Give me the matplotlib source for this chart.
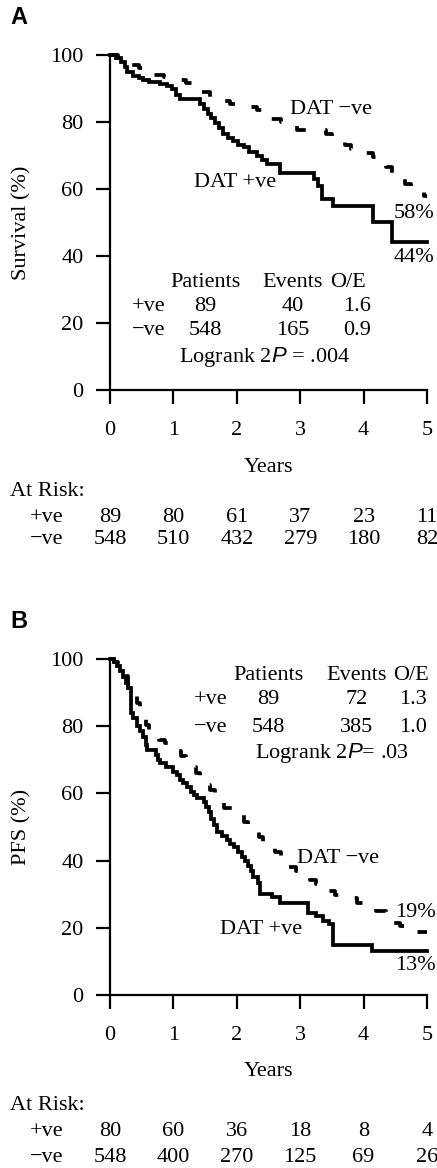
import matplotlib
matplotlib.use("Agg")
import matplotlib.pyplot as plt
import matplotlib.transforms as mtransforms

plt.rcParams['font.family'] = ['Liberation Serif', 'DejaVu Serif']
plt.rcParams['mathtext.fontset'] = 'custom'
plt.rcParams['mathtext.it'] = 'Liberation Sans:italic'
plt.rcParams['mathtext.rm'] = 'Liberation Serif'

# ---- Panel A: overall survival ----
os_pos_t = [0, 0.10, 0.18, 0.24, 0.27, 0.37, 0.45, 0.52, 0.62, 0.79, 0.90, 0.98, 1.04, 1.10,
            1.42, 1.48, 1.55, 1.60, 1.66, 1.72, 1.78, 1.86, 1.94, 2.02, 2.12, 2.20, 2.32,
            2.40, 2.47, 2.68, 3.22, 3.28, 3.34, 3.52, 4.15, 4.45, 5.0]
os_pos_s = [100, 99, 98, 96.5, 94.8, 93.6, 93, 92.4, 91.8, 91.4, 90.8, 89.8, 88, 87,
            85.5, 84, 82.5, 81.2, 79.8, 78.2, 76.5, 75.2, 74.2, 73.1, 72.4, 71, 69.8,
            68.6, 67.6, 64.8, 63, 61, 57, 55, 50.1, 44.2, 44.2]
os_neg_t = [0, 0.12, 0.22, 0.30, 0.45, 0.55, 0.70, 0.85, 1.05, 1.20, 1.30, 1.45, 1.58,
            1.75, 1.90, 2.15, 2.32, 2.42, 2.52, 2.70, 2.82, 2.95, 3.40, 3.50, 3.60, 3.70,
            3.80, 3.95, 4.15, 4.28, 4.35, 4.45, 4.55, 4.65, 4.75, 4.85, 4.95, 5.0]
os_neg_s = [100, 99, 98, 97, 96, 95, 94, 93.4, 92.6, 91.5, 90.3, 89, 87.5,
            86.2, 85.5, 84.5, 83.5, 82, 81, 80, 78.8, 77.5, 76.5, 75.3, 74.2, 73,
            72, 70.8, 69.5, 68, 66.5, 64.5, 63, 61.5, 60.5, 59.2, 58, 58]

# ---- Panel B: progression-free survival ----
pfs_pos_t = [0, 0.06, 0.11, 0.16, 0.21, 0.25, 0.29, 0.33, 0.37, 0.42, 0.47, 0.52, 0.56,
             0.58, 0.72, 0.76, 0.79, 0.88, 1.00, 1.05, 1.10, 1.15, 1.21, 1.27, 1.33, 1.37,
             1.48, 1.52, 1.56, 1.60, 1.64, 1.68, 1.76, 1.84, 1.90, 1.96, 2.02, 2.08, 2.13,
             2.18, 2.22, 2.26, 2.34, 2.37, 2.55, 2.68, 3.12, 3.25, 3.36, 3.46, 3.52, 4.14, 5.0]
pfs_pos_s = [100, 99, 98, 96.5, 94.6, 93, 91.3, 84, 82.5, 80, 78.5, 76.7, 74.5,
             72.8, 71.5, 70, 69, 68, 66.5, 65.5, 64, 63, 61.8, 60.5, 59.5, 58.5,
             57.5, 56, 54.5, 52.5, 50.5, 48.4, 47.2, 46, 45, 44, 42.5, 41, 40,
             38.5, 37, 35, 33.4, 30, 29.3, 27.5, 24.5, 23.5, 22, 21, 14.9, 13.1, 13.1]
pfs_neg_t = [0, 0.06, 0.12, 0.20, 0.28, 0.35, 0.42, 0.48, 0.52, 0.56, 0.62, 0.70, 0.78,
             0.86, 0.96, 1.05, 1.12, 1.20, 1.28, 1.36, 1.42, 1.50, 1.58, 1.66, 1.74, 1.80,
             1.95, 2.05, 2.12, 2.18, 2.26, 2.35, 2.42, 2.48, 2.60, 2.70, 2.76, 2.82, 2.93,
             3.05, 3.15, 3.25, 3.33, 3.45, 3.55, 3.74, 3.90, 4.00, 4.20, 4.35, 4.45, 4.57,
             4.75, 4.85, 5.0]
pfs_neg_s = [100, 99, 97.5, 95, 92, 89.5, 87, 85, 83, 80.5, 79, 77.5, 76,
             75, 74, 72.5, 71, 69.5, 68, 66, 64, 62.5, 61, 59, 57, 55.8,
             55, 53.5, 51.5, 50, 48.4, 47, 45.5, 44, 42.7, 41.5, 39.5, 38, 36.8,
             35.8, 34.2, 33, 32, 31, 29.7, 29, 27.5, 25.8, 25, 23, 21.5, 20.4,
             19.5, 18.8, 18.8]

years = [0, 1, 2, 3, 4, 5]
os_risk_pos = [89, 80, 61, 37, 23, 11]
os_risk_neg = [548, 510, 432, 279, 180, 82]
pfs_risk_pos = [80, 60, 36, 18, 8, 4]
pfs_risk_neg = [548, 400, 270, 125, 69, 26]

W, H = 437, 1168
fig = plt.figure(figsize=(W / 100, H / 100), dpi=100)
FS = 16


def fy(py):
    return 1 - py / H


def panel(letter, ylabel, top_px, bot_px, pos_t, pos_s, neg_t, neg_s,
          risk_pos, risk_neg, row_px, table, labels):
    ax = fig.add_axes([110 / W, fy(bot_px), 317 / W, (bot_px - top_px) / H])
    ax.plot(pos_t, pos_s, drawstyle='steps-post', color='black', lw=2.7,
            clip_on=False, solid_joinstyle='miter')
    ax.plot(neg_t, neg_s, drawstyle='steps-post', color='black', lw=2.7,
            dashes=(3.4, 5.2), clip_on=False)
    ax.set_xlim(0, 5)
    ax.set_ylim(0, 100)
    ax.set_xticks(years)
    ax.set_yticks([0, 20, 40, 60, 80, 100])
    for s in ['top', 'right']:
        ax.spines[s].set_visible(False)
    for s in ['left', 'bottom']:
        ax.spines[s].set_linewidth(1.6)
    ax.tick_params(direction='out', length=10, width=1.6, labelsize=FS)
    ax.tick_params(axis='y', pad=9)
    ax.tick_params(axis='x', pad=12)

    fig.text(10 / W, fy(top_px - 37), letter, fontsize=17, fontweight='bold',
             family='Liberation Sans', va='center', ha='left')
    fig.text(22 / W, fy((top_px + bot_px) / 2), ylabel, rotation=90,
             fontsize=FS, va='center', ha='center')
    fig.text((110 + 317 * 0.5) / W, fy(row_px[0]), 'Years', fontsize=FS,
             ha='center', va='center')
    fig.text(10 / W, fy(row_px[1]), 'At Risk:', fontsize=FS, ha='left', va='center')
    fig.text(30 / W, fy(row_px[2]), '+ve', fontsize=FS, ha='left', va='center')
    fig.text(30 / W, fy(row_px[3]), '\u2212ve', fontsize=FS, ha='left', va='center')
    tr = mtransforms.blended_transform_factory(ax.transData, fig.transFigure)
    for x, a, b in zip(years, risk_pos, risk_neg):
        fig.text(x, fy(row_px[2]), str(a), transform=tr, fontsize=FS,
                 ha='center', va='center')
        fig.text(x, fy(row_px[3]), str(b), transform=tr, fontsize=FS,
                 ha='center', va='center')

    # summary table inside the plot
    (hx, hy, cols, r1y, r2y, lx, ly, rows, logtxt) = table
    for txt, x in zip(['Patients', 'Events', 'O/E'], hx):
        ax.text(x, hy, txt, fontsize=FS, ha='left', va='center')
    ax.text(lx[0], r1y, '+ve', fontsize=FS, ha='left', va='center')
    ax.text(lx[0], r2y, '\u2212ve', fontsize=FS, ha='left', va='center')
    for x, a, b in zip(cols, rows[0], rows[1]):
        ax.text(x, r1y, a, fontsize=FS, ha='center', va='center')
        ax.text(x, r2y, b, fontsize=FS, ha='center', va='center')
    ax.text(lx[1], ly, logtxt, fontsize=FS, ha='left', va='center')

    for txt, x, y in labels:
        ax.text(x, y, txt, fontsize=FS, ha='left', va='center')
    return ax


panel('A', 'Survival (%)', 55, 390, os_pos_t, os_pos_s, os_neg_t, os_neg_s,
      os_risk_pos, os_risk_neg, [467, 491, 517, 539],
      ([0.95, 2.41, 3.47], 32.2, [1.5, 2.89, 3.89], 24.8, 17.9, [0.35, 1.09], 9.9,
       [['89', '40', '1.6'], ['548', '165', '0.9']], 'Logrank 2$P$ = .004'),
      [('DAT \u2212ve', 2.84, 83.6), ('DAT +ve', 1.33, 61.8),
       ('58%', 4.47, 52.8), ('44%', 4.47, 39.7)])

panel('B', 'PFS (%)', 659, 995, pfs_pos_t, pfs_pos_s, pfs_neg_t, pfs_neg_s,
      pfs_risk_pos, pfs_risk_neg, [1072, 1105, 1132, 1158],
      ([1.94, 3.42, 4.47], 95.2, [2.5, 3.89, 4.78], 87.8, 79.7, [1.33, 2.29], 71.9,
       [['89', '72', '1.3'], ['548', '385', '1.0']], 'Logrank 2$P$= .03'),
      [('DAT \u2212ve', 2.95, 40.6), ('DAT +ve', 1.73, 19.4),
       ('19%', 4.5, 24.5), ('13%', 4.5, 8.7)])

fig.savefig('out.png', dpi=100)
